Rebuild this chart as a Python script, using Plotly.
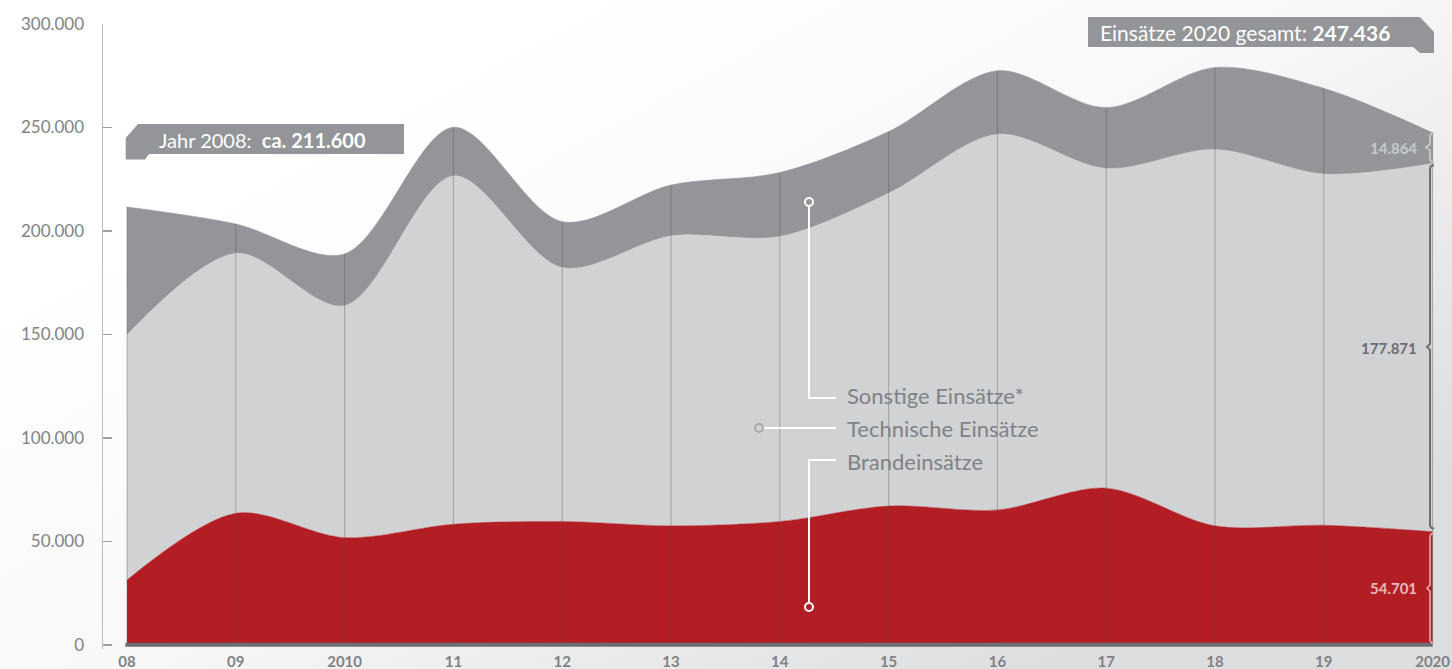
import plotly.graph_objects as go

# ---------------- data ----------------
years = ["08", "09", "2010", "11", "12", "13", "14", "15", "16", "17", "18", "19", "2020"]
brand = [31400, 63600, 51800, 58300, 59600, 57500, 59600, 67100, 65200, 75700, 57500, 57800, 54701]
technische = [118400, 125600, 112100, 168300, 122700, 140100, 137700, 151100, 181500, 154500, 181900, 169700, 177871]
sonstige = [61800, 14200, 25000, 23500, 22200, 24600, 30900, 29800, 30700, 29400, 39600, 41400, 14864]
y_ticks = [0, 50000, 100000, 150000, 200000, 250000, 300000]
series_names = ["Brandeinsätze", "Technische Einsätze", "Sonstige Einsätze*"]

# ---------------- style ----------------
RED = "#b31e24"
LIGHT = "#d1d2d4"
DARK = "#939598"
TXT = "#808285"
FONT = "Lato"

W, H = 1452, 669
ML, MR, MT, MB = 103, 7, 24, 20
PW, PH = W - ML - MR, H - MT - MB
STEP = 108.8
XR = [-(127 - ML) / STEP, -(127 - ML) / STEP + PW / STEP]
YR = [-2000, 300000]
DX = (XR[1] - XR[0]) / PW   # data units per px
DY = (YR[1] - YR[0]) / PH


def de(v):
    return f"{v:,}".replace(",", ".")


def px_paper(px, py):
    return (px - ML) / PW, (H - MB - py) / PH


def px_data(px, py):
    return XR[0] + (px - ML) * DX, YR[1] - (py - MT) * DY


x = list(range(len(years)))
totals = [b + t + s for b, t, s in zip(brand, technische, sonstige)]
mids = [b + t for b, t in zip(brand, technische)]

fig = go.Figure()
for vals, name, col in [(brand, series_names[0], RED), (technische, series_names[1], LIGHT), (sonstige, series_names[2], DARK)]:
    fig.add_trace(go.Scatter(
        x=x, y=vals, name=name, stackgroup="one", mode="lines",
        line=dict(shape="spline", smoothing=0.9, width=0.5, color=col),
        fillcolor=col, hoverinfo="skip", showlegend=False))

shapes = []
# background gradient via image
svg = ("data:image/svg+xml;utf8,<svg xmlns='http://www.w3.org/2000/svg' width='1452' height='669'>"
       "<defs><linearGradient id='g' x1='0.3' y1='0.1' x2='1' y2='0.7'>"
       "<stop offset='0' stop-color='%23ffffff'/><stop offset='0.45' stop-color='%23f8f8f8'/>"
       "<stop offset='1' stop-color='%23dcdddf'/></linearGradient></defs>"
       "<rect width='1452' height='669' fill='url(%23g)'/></svg>")
bx0, by0 = px_paper(0, 0)
images = [dict(source=svg, xref="paper", yref="paper", x=bx0, y=by0, sizex=W / PW, sizey=H / PH,
               xanchor="left", yanchor="top", sizing="stretch", layer="below")]

# vertical year lines within the area
for i in x:
    shapes.append(dict(type="line", xref="x", yref="y", x0=i, x1=i, y0=0, y1=totals[i],
                       line=dict(color="rgba(80,80,80,0.38)", width=1), layer="above"))
# baseline
shapes.append(dict(type="line", xref="x", yref="y", x0=x[0] - 0.015, x1=x[-1], y0=0, y1=0,
                   line=dict(color="#6d6e71", width=4), layer="above"))


def poly_paper(pts):
    s = ""
    for k, (px, py) in enumerate(pts):
        a, b = px_paper(px, py)
        s += ("M" if k == 0 else "L") + f"{a:.5f},{b:.5f} "
    return s + "Z"


# label boxes
shapes.append(dict(type="path", xref="paper", yref="paper", fillcolor=DARK, line=dict(width=0),
                   path=poly_paper([(125.7, 138), (138, 124), (404, 124), (404, 154), (149, 154), (145, 159.5), (125.7, 159.5)])))
shapes.append(dict(type="path", xref="paper", yref="paper", fillcolor=DARK, line=dict(width=0),
                   path=poly_paper([(1088, 17), (1420, 17), (1434, 32), (1434, 53), (1420, 53), (1413, 47), (1088, 47)])))


# braces on the right
def brace(lo, hi, color, width, xpx=1430, tip=3):
    xc = XR[0] + (xpx - ML) * DX
    h = 4
    mid = (lo + hi) / 2
    p = (f"M{xc + h * DX},{hi} Q{xc},{hi} {xc},{hi - h * DY} L{xc},{mid + 3 * DY} "
         f"L{xc - tip * DX},{mid} L{xc},{mid - 3 * DY} L{xc},{lo + h * DY} Q{xc},{lo} {xc + h * DX},{lo}")
    return dict(type="path", xref="x", yref="y", path=p, line=dict(color=color, width=width), layer="above")


last = len(years) - 1
shapes.append(brace(mids[last] + 800, totals[last], "#c7c8ca", 1.8, tip=4))
shapes.append(brace(brand[last] + 1500, mids[last] - 800, "#6d6e71", 2))
shapes.append(brace(0 + 800, brand[last] - 800, "#e6b8b8", 1.5))


# callout lines
def seg(p1, p2, color="white", width=2):
    a = px_data(*p1)
    b = px_data(*p2)
    return dict(type="line", xref="x", yref="y", x0=a[0], y0=a[1], x1=b[0], y1=b[1],
                line=dict(color=color, width=width), layer="above")


shapes += [seg((809, 206), (809, 398)), seg((808, 398), (836, 398)),
           seg((763, 428), (836, 428)),
           seg((809, 603), (809, 460)), seg((808, 460), (836, 460))]


def ring(px, py, line_col, fill_col):
    cx, cy = px_data(px, py)
    return dict(type="circle", xref="x", yref="y", xsizemode="pixel", ysizemode="pixel",
                xanchor=cx, yanchor=cy, x0=-4, x1=4, y0=-4, y1=4,
                line=dict(color=line_col, width=2), fillcolor=fill_col, layer="above")


shapes += [ring(809, 202, "white", DARK), ring(759, 428, "#a7a9ac", LIGHT), ring(809, 607, "white", RED)]

annotations = []
# callout texts
for name, py in zip([series_names[2], series_names[1], series_names[0]], [395, 428, 461]):
    ax_, ay_ = px_data(845, py)
    annotations.append(dict(x=ax_, y=ay_, xref="x", yref="y", text=name, showarrow=False,
                            xanchor="left", yanchor="middle", font=dict(family=FONT, size=22, color=TXT)))

# box texts
a, b = px_paper(157, 140)
annotations.append(dict(x=a, y=b, xref="paper", yref="paper", xanchor="left", yanchor="middle", showarrow=False,
                        text=f"Jahr 20{years[0]}:  <b>ca. {de(round(totals[0], -2))}</b>",
                        font=dict(family=FONT, size=20, color="white")))
a, b = px_paper(1098, 32)
annotations.append(dict(x=a, y=b, xref="paper", yref="paper", xanchor="left", yanchor="middle", showarrow=False,
                        text=f"Einsätze {years[-1]} gesamt: <b>{de(totals[-1])}</b>",
                        font=dict(family=FONT, size=21, color="white")))

# right value labels
for val, yv, col, rpx in [(sonstige[last], (mids[last] + totals[last]) / 2, "#c7c8ca", 1419),
                          (technische[last], (brand[last] + mids[last]) / 2, "#6d6e71", 1419),
                          (brand[last], brand[last] / 2, "#e6b8b8", 1419)]:
    xx = XR[0] + (rpx - ML) * DX
    annotations.append(dict(x=xx, y=yv, xref="x", yref="y", xanchor="right", yanchor="middle", showarrow=False,
                            text=f"<b>{de(val)}</b>", font=dict(family=FONT, size=15, color=col)))

fig.update_layout(
    width=W, height=H,
    margin=dict(l=ML, r=MR, t=MT, b=MB, pad=0),
    paper_bgcolor="white", plot_bgcolor="rgba(0,0,0,0)",
    separators=",.",
    showlegend=False,
    images=images, shapes=shapes, annotations=annotations,
    xaxis=dict(range=XR, tickvals=x, ticktext=years, showgrid=False, zeroline=False, showline=False,
               ticks="", tickfont=dict(family=FONT, size=15, color=TXT, weight="bold"), ticklabelstandoff=2,
               fixedrange=True, automargin=False),
    yaxis=dict(range=YR, tickvals=y_ticks, ticktext=[de(v) for v in y_ticks], showgrid=False, zeroline=False,
               showline=True, linecolor="#bcbec0", linewidth=1.5, ticks="inside", ticklen=9, tickcolor="#9d9fa2",
               tickwidth=1.5, tickfont=dict(family=FONT, size=17, color=TXT), ticklabelstandoff=14,
               fixedrange=True, automargin=False),
)

fig.write_html("out.html", config={"displayModeBar": False, "staticPlot": True},
               post_script="document.body.style.margin='0';document.body.style.overflow='hidden';")
